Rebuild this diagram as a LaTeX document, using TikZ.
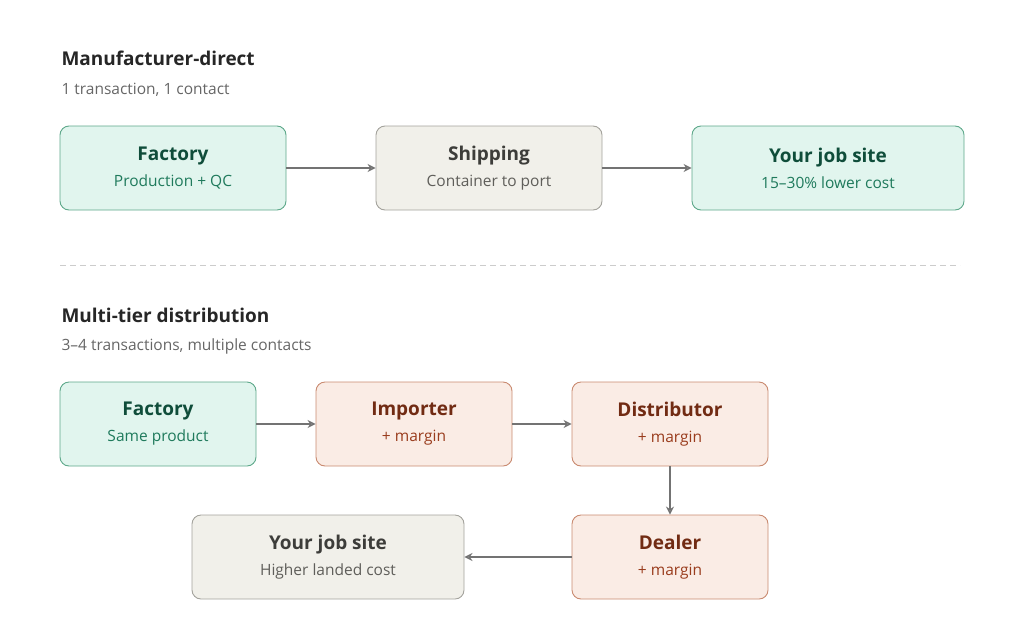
\documentclass[tikz,border=0pt]{standalone}
\usepackage{fontspec}
\setmainfont{Open Sans}
\usetikzlibrary{arrows.meta}
\definecolor{grnfill}{HTML}{E1F5EE}
\definecolor{grnline}{HTML}{5DA88A}
\definecolor{grntitle}{HTML}{0F4D3A}
\definecolor{grnsub}{HTML}{1F7A5C}
\definecolor{gryfill}{HTML}{F1F0EA}
\definecolor{gryline}{HTML}{A3A29C}
\definecolor{grytitle}{HTML}{3D3D3A}
\definecolor{grysub}{HTML}{5F5E5A}
\definecolor{orgfill}{HTML}{FAECE5}
\definecolor{orgline}{HTML}{C98A70}
\definecolor{orgtitle}{HTML}{712B13}
\definecolor{orgsub}{HTML}{993C1D}
\tikzstyle{box}=[rectangle,rounded corners=9pt,minimum height=84pt,inner sep=0pt,line width=0.9pt,align=center,anchor=center,font=\fontsize{19}{26}\selectfont]
\tikzstyle{green}=[box,fill=grnfill,draw=grnline]
\tikzstyle{gray}=[box,fill=gryfill,draw=gryline]
\tikzstyle{orange}=[box,fill=orgfill,draw=orgline]
\tikzstyle{flow}=[draw=gray!90!black,line width=1.3pt,-{Stealth[length=8pt,width=8pt,open]}]
\tikzstyle{head}=[anchor=west,font=\fontsize{19}{22}\selectfont\bfseries,text=black!85]
\tikzstyle{note}=[anchor=west,font=\fontsize{15.5}{18}\selectfont,text=black!60]
\newcommand{\boxtext}[4]{{\bfseries\color{#1}#2}\\{\fontsize{15.5}{19}\selectfont\color{#3}#4}}
\begin{document}
\begin{tikzpicture}[x=1pt,y=-1pt]
  \useasboundingbox (0,0) rectangle (1024,632);

  % manufacturer-direct
  \node[head] (t1) at (58,58) {Manufacturer-direct};
  \node[note] (s1) at (58,90) {1 transaction, 1 contact};
  \node[green, minimum width=226pt] (fac1) at (173,168) {\boxtext{grntitle}{Factory}{grnsub}{Production + QC}};
  \node[gray, minimum width=226pt] (ship) at (489,168) {\boxtext{grytitle}{Shipping}{grysub}{Container to port}};
  \node[green, minimum width=272pt] (job1) at (828,168) {\boxtext{grntitle}{Your job site}{grnsub}{15–30\% lower cost}};
  \draw[flow] (fac1) -- (ship);
  \draw[flow] (ship) -- (job1);

  \draw[gray!40, line width=1pt, dash pattern=on 6pt off 4pt] (60,265) -- (960,265);

  % multi-tier
  \node[head] (t2) at (58,315) {Multi-tier distribution};
  \node[note] (s2) at (58,346) {3–4 transactions, multiple contacts};
  \node[green, minimum width=196pt] (fac2) at (158,424) {\boxtext{grntitle}{Factory}{grnsub}{Same product}};
  \node[orange, minimum width=196pt] (imp) at (414,424) {\boxtext{orgtitle}{Importer}{orgsub}{+ margin}};
  \node[orange, minimum width=196pt] (dist) at (670,424) {\boxtext{orgtitle}{Distributor}{orgsub}{+ margin}};
  \node[orange, minimum width=196pt] (deal) at (670,557) {\boxtext{orgtitle}{Dealer}{orgsub}{+ margin}};
  \node[gray, minimum width=272pt] (job2) at (328,557) {\boxtext{grytitle}{Your job site}{grysub}{Higher landed cost}};
  \draw[flow] (fac2) -- (imp);
  \draw[flow] (imp) -- (dist);
  \draw[flow] (dist) -- (deal);
  \draw[flow] (deal) -- (job2);
\end{tikzpicture}
\end{document}
